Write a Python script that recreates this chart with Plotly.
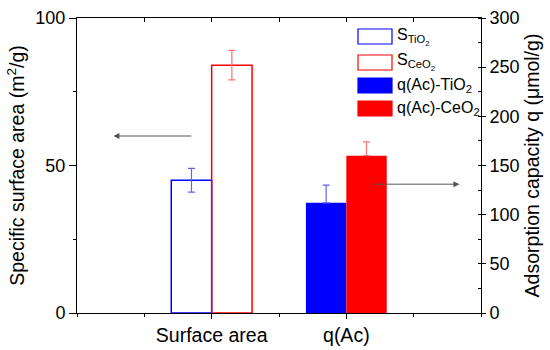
import plotly.graph_objects as go

# ---- data ----
categories = ["Surface area", "q(Ac)"]
surface_names = ["S<sub>TiO<sub>2</sub></sub>", "S<sub>CeO<sub>2</sub></sub>"]
q_names = ["q(Ac)-TiO<sub>2</sub>", "q(Ac)-CeO<sub>2</sub>"]
surface_values = [45, 84]        # m2/g
surface_errors = [4, 5]
q_values = [112, 160]            # umol/g
q_errors = [18, 14]
colors = ["#0000FF", "#FF0000"]
err_colors = ["#6060FF", "#FF7070"]

FONT = "Arial, Liberation Sans, sans-serif"
xpos = [i + 1 for i in range(len(categories))]
offsets = [-0.3, 0.0]

fig = go.Figure()
for i in range(2):
    fig.add_trace(go.Bar(
        x=[xpos[0]], y=[surface_values[i]], width=0.3, offset=offsets[i],
        marker=dict(color="rgba(255,255,255,0)", line=dict(color=colors[i], width=1.5)),
        error_y=dict(type="data", array=[surface_errors[i]], color=err_colors[i],
                     thickness=1.2, width=3.5),
        name=surface_names[i], showlegend=False, yaxis="y", xaxis="x"))
for i in range(2):
    fig.add_trace(go.Bar(
        x=[xpos[1]], y=[q_values[i]], width=0.3, offset=offsets[i],
        marker=dict(color=colors[i], line=dict(width=0)),
        error_y=dict(type="data", symmetric=False, array=[q_errors[i]], arrayminus=[0],
                     color=err_colors[i], thickness=1.2, width=3.5),
        name=q_names[i], showlegend=False, yaxis="y2", xaxis="x"))

# invisible trace to carry the top axis
fig.add_trace(go.Scatter(x=[0], y=[0], xaxis="x2", yaxis="y", mode="markers",
                         marker=dict(opacity=0), showlegend=False, hoverinfo="skip"))

tickfont = dict(family=FONT, size=18, color="black")
titlefont = dict(family=FONT, size=19.5, color="black")
fig.update_layout(
    width=550, height=350,
    margin=dict(l=77, r=69, t=18, b=37),
    plot_bgcolor="white", paper_bgcolor="white",
    font=dict(family=FONT, color="black"),
    showlegend=False,
    xaxis=dict(range=[0, 3], tickvals=xpos, ticktext=categories, automargin=False,
               tickfont=dict(family=FONT, size=19.5, color="black"),
               ticks="outside", ticklen=5, tickcolor="black", tickwidth=1,
               minor=dict(dtick=0.5, tick0=0.5, ticks="outside", ticklen=3, tickcolor="black"),
               showline=True, linecolor="black", linewidth=1, showgrid=False, zeroline=False),
    xaxis2=dict(range=[0, 3], overlaying="x", side="top", anchor="y", automargin=False,
                tickvals=[0.5, 1, 1.5, 2, 2.5], showticklabels=False,
                ticks="inside", ticklen=4, tickcolor="black",
                showline=True, linecolor="black", linewidth=1, showgrid=False, zeroline=False),
    yaxis=dict(range=[0, 100], tickvals=[0, 50, 100], tickfont=tickfont, automargin=False,
               ticks="outside", ticklen=7, tickcolor="black",
               minor=dict(tickvals=[25, 75], ticks="outside", ticklen=3, tickcolor="black"),
               showline=True, linecolor="black", linewidth=1, showgrid=False, zeroline=False,
               title=dict(text="Specific surface area (m<sup>2</sup>/g)",
                          font=titlefont, standoff=5)),
    yaxis2=dict(range=[0, 300], tickvals=[0, 50, 100, 150, 200, 250, 300], tickfont=tickfont,
                overlaying="y", side="right", anchor="x", automargin=False,
                ticks="outside", ticklen=4, tickcolor="black",
                minor=dict(dtick=25, tick0=25, ticks="inside", ticklen=3, tickcolor="black"),
                showline=True, linecolor="black", linewidth=1, showgrid=False, zeroline=False,
                title=dict(text="Adsorption capacity q (\u03bcmol/g)",
                           font=titlefont, standoff=6)),
)

# arrows pointing to the relevant axes
fig.add_annotation(x=0.27, y=60, ax=0.86, ay=60, xref="x", yref="y", axref="x", ayref="y",
                   showarrow=True, arrowhead=2, arrowsize=1.2, arrowwidth=1,
                   arrowcolor="#555555", text="")
fig.add_annotation(x=2.84, y=131, ax=2.19, ay=131, xref="x", yref="y2", axref="x", ayref="y2",
                   showarrow=True, arrowhead=2, arrowsize=1.2, arrowwidth=1,
                   arrowcolor="#555555", text="")

# manual legend (large swatches as in the original)
legend_names = surface_names + q_names
legend_fill = ["white", "white", colors[0], colors[1]]
legend_line = [colors[0], colors[1], colors[0], colors[1]]
row_top = [29, 55, 78, 101]
for k in range(4):
    fig.add_shape(type="rect", xref="paper", yref="paper",
                  x0=(358 - 77) / 404, x1=(392 - 77) / 404,
                  y0=(313 - row_top[k]) / 295, y1=(313 - row_top[k] - 15) / 295,
                  fillcolor=legend_fill[k], line=dict(color=legend_line[k], width=1.2))
    fig.add_annotation(xref="paper", yref="paper", x=(395 - 77) / 404,
                       y=(313 - row_top[k] - 7.5) / 295, xanchor="left", yanchor="middle",
                       text=legend_names[k], showarrow=False,
                       font=dict(family=FONT, size=16, color="black"))

fig.write_html("out.html", config={"displayModeBar": False},
               post_script="document.body.style.margin='0';document.body.style.padding='0';")
